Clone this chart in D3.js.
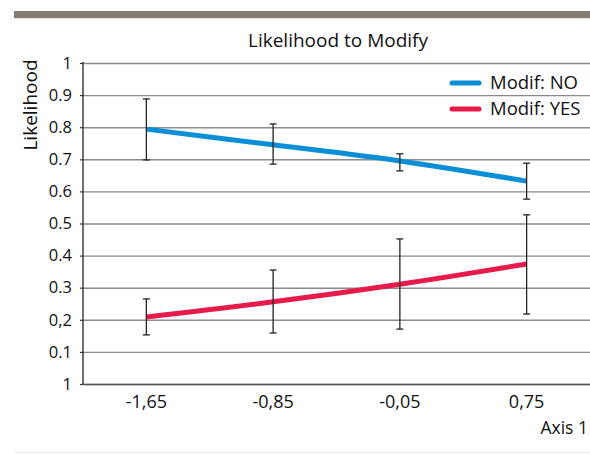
<!DOCTYPE html>
<html>
<head>
<meta charset="utf-8">
<script src="https://cdn.jsdelivr.net/npm/d3@7"></script>
<style>
  html, body { margin: 0; padding: 0; background: #fff; }
  svg { display: block; font-family: "Open Sans", "Noto Sans", sans-serif; }
</style>
</head>
<body>
<svg id="chart" width="590" height="454"></svg>
<script>
const categories = ["-1,65", "-0,85", "-0,05", "0,75"];
const seriesNames = ["Modif: NO", "Modif: YES"];
const noValues = [0.794, 0.745, 0.695, 0.632];
const noUpper = [0.888, 0.810, 0.717, 0.688];
const noLower = [0.698, 0.685, 0.664, 0.576];
const yesValues = [0.209, 0.256, 0.311, 0.374];
const yesUpper = [0.265, 0.355, 0.452, 0.527];
const yesLower = [0.153, 0.159, 0.171, 0.218];
const yTickValues = [1, 0.9, 0.8, 0.7, 0.6, 0.5, 0.4, 0.3, 0.2, 0.1, 0];
const yTickLabels = ["1", "0.9", "0.8", "0.7", "0.6", "0.5", "0.4", "0.3", "0,2", "0.1", "1"];
const colors = ["#0a8ed6", "#e8194b"];

(function () {
const svg = d3.select("#chart");
const W = 590, H = 454;
const mLeft = 83, mRight = 590, mTop = 63, mBottom = 384;

const x = d3.scaleBand().domain(categories).range([mLeft, mRight]).padding(0);
const cx = c => x(c) + x.bandwidth() / 2;
const y = d3.scaleLinear().domain([0, 1]).range([mBottom, mTop]);

// decorative frame
svg.append("rect").attr("x", 14).attr("y", 11).attr("width", W - 14).attr("height", 7).attr("fill", "#857b71");
svg.append("line").attr("x1", 14).attr("x2", W).attr("y1", 18.5).attr("y2", 18.5).attr("stroke", "#e6e3df").attr("stroke-width", 1);
svg.append("line").attr("x1", 14).attr("x2", W).attr("y1", 452.5).attr("y2", 452.5).attr("stroke", "#eeeeee").attr("stroke-width", 1);

// title
svg.append("text").attr("x", 338).attr("y", 47).attr("text-anchor", "middle")
  .attr("font-size", 19).attr("fill", "#111").text("Likelihood to Modify");

// gridlines (y axis)
const yAxis = d3.axisLeft(y).tickValues(yTickValues)
  .tickFormat((d, i) => yTickLabels[i]).tickSize(-(mRight - mLeft)).tickPadding(11);
const gy = svg.append("g").attr("transform", `translate(${mLeft},0)`).call(yAxis);
gy.select(".domain").remove();
gy.selectAll(".tick line").attr("stroke", "#8a8a8a").attr("stroke-width", 1.4);
gy.selectAll(".tick").append("line").attr("x1", -3).attr("x2", 0).attr("stroke", "#333").attr("stroke-width", 1.2);
gy.selectAll(".tick text").attr("font-size", 16.5).attr("fill", "#111").attr("font-family", "'Open Sans', sans-serif");

// left axis line
svg.append("line").attr("x1", mLeft).attr("x2", mLeft).attr("y1", mTop - 1).attr("y2", mBottom)
  .attr("stroke", "#333").attr("stroke-width", 1.4);

// x axis
const xAxis = d3.axisBottom(x).tickSize(0).tickPadding(11);
const gx = svg.append("g").attr("transform", `translate(0,${mBottom})`).call(xAxis);
gx.select(".domain").attr("stroke", "#555").attr("stroke-width", 1.6);
gx.selectAll(".tick text").attr("font-size", 18).attr("fill", "#111").attr("font-family", "'Open Sans', sans-serif");

// axis titles
svg.append("text").attr("x", 588).attr("y", 434).attr("text-anchor", "end")
  .attr("font-size", 17.5).attr("fill", "#111").text("Axis 1");
svg.append("text").attr("transform", "translate(37,105) rotate(-90)").attr("text-anchor", "middle")
  .attr("font-size", 19).attr("fill", "#111").text("Likelihood");

const series = [
  { name: seriesNames[0], values: noValues, upper: noUpper, lower: noLower, color: colors[0] },
  { name: seriesNames[1], values: yesValues, upper: yesUpper, lower: yesLower, color: colors[1] }
];

const line = d3.line().x((d, i) => cx(categories[i])).y(d => y(d)).curve(d3.curveCatmullRom.alpha(0.5));

series.forEach(s => {
  svg.append("path").datum(s.values).attr("d", line)
    .attr("fill", "none").attr("stroke", s.color).attr("stroke-width", 5);
});

// error bars
series.forEach(s => {
  const g = svg.append("g").attr("stroke", "#222").attr("stroke-width", 1.3);
  categories.forEach((c, i) => {
    const xc = cx(c);
    g.append("line").attr("x1", xc).attr("x2", xc).attr("y1", y(s.upper[i])).attr("y2", y(s.lower[i]));
    g.append("line").attr("x1", xc - 3.5).attr("x2", xc + 3.5).attr("y1", y(s.upper[i])).attr("y2", y(s.upper[i]));
    g.append("line").attr("x1", xc - 3.5).attr("x2", xc + 3.5).attr("y1", y(s.lower[i])).attr("y2", y(s.lower[i]));
  });
});

// legend
const lg = svg.append("g");
series.forEach((s, i) => {
  const ly = 83 + i * 26;
  lg.append("line").attr("x1", 452).attr("x2", 479).attr("y1", ly).attr("y2", ly)
    .attr("stroke", s.color).attr("stroke-width", 5).attr("stroke-linecap", "round");
  lg.append("text").attr("x", 490).attr("y", ly + 6).attr("font-size", 18.5).attr("fill", "#111").text(s.name);
});
})();
</script>
</body>
</html>
